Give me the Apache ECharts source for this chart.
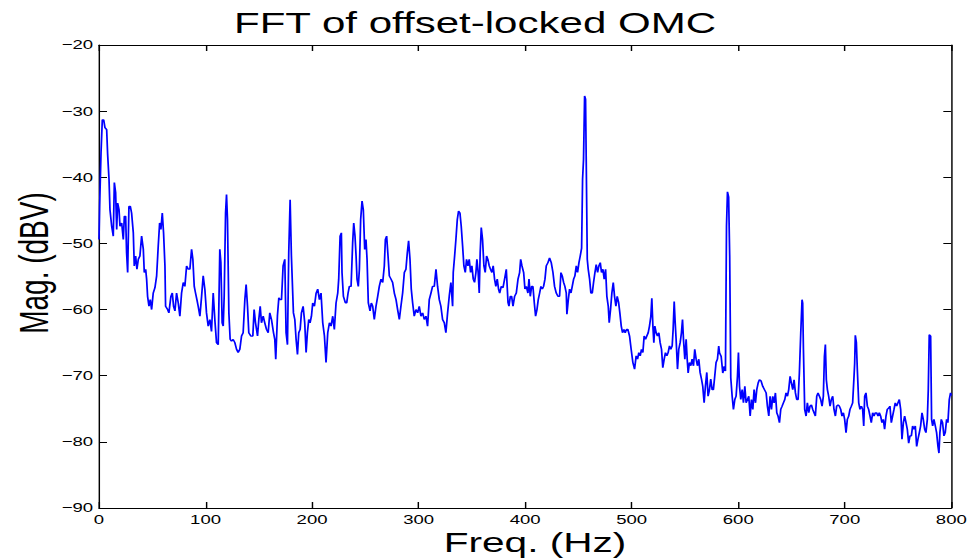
<!DOCTYPE html>
<html>
<head>
<meta charset="utf-8">
<script src="https://cdn.jsdelivr.net/npm/echarts@6/dist/echarts.min.js"></script>
<style>
  html, body { margin: 0; padding: 0; background: #fff; overflow: hidden; }
  #chart { position: absolute; left: 0; top: 0; height: 559px; transform-origin: 0 0; }
</style>
</head>
<body>
<div id="chart"></div>
<script>
// Spectrum of the offset-locked OMC signal: frequency bins (Hz) and magnitudes (dBV)
const freqHz = [
  0, 0.6, 1.9, 3.1, 4.4, 5.6, 7.2, 8.1, 9.4, 10.3,
  11.9, 13.4, 14.4, 15.6, 16.6, 17.5, 18.8, 19.7, 21.3, 22.8,
  23.8, 25.0, 25.9, 26.9, 28.1, 29.4, 30.6, 32.2, 33.1, 34.4,
  35.6, 36.9, 38.4, 40.0, 41.6, 42.5, 43.8, 44.7, 45.6, 46.9,
  48.1, 49.4, 50.9, 52.5, 54.1, 55.6, 56.9, 58.1, 59.4, 60.6,
  61.9, 62.5, 64.4, 65.6, 67.5, 68.8, 70.0, 71.3, 72.8, 74.4,
  75.9, 77.5, 79.1, 80.6, 82.2, 83.8, 85.3, 86.9, 88.1, 89.4,
  90.6, 91.9, 93.1, 94.7, 96.3, 97.8, 99.4, 100.9, 102.5, 104.1,
  105.6, 107.2, 108.8, 110.3, 111.9, 113.4, 114.4, 115.6, 116.6, 117.5,
  118.8, 119.7, 120.6, 121.9, 123.1, 124.4, 125.9, 127.5, 129.1, 130.6,
  132.2, 133.8, 135.3, 136.9, 138.1, 139.4, 140.6, 142.5, 144.4, 145.6,
  146.9, 148.8, 150.0, 151.3, 152.5, 154.1, 155.6, 157.2, 158.8, 160.3,
  161.9, 163.8, 165.0, 165.9, 167.5, 168.8, 170.0, 171.3, 172.8, 174.4,
  175.6, 176.9, 178.1, 179.4, 180.6, 182.5, 183.8, 185.0, 186.3, 187.5,
  188.8, 190.0, 191.6, 193.1, 194.4, 195.6, 196.9, 198.1, 199.4, 200.6,
  202.2, 203.8, 205.3, 206.9, 208.4, 210.0, 211.6, 213.1, 214.7, 216.3,
  217.8, 219.4, 220.9, 222.5, 224.1, 225.0, 226.3, 227.5, 228.1, 229.4,
  231.3, 232.5, 233.8, 235.0, 236.6, 238.1, 239.1, 240.3, 241.3, 242.2,
  243.4, 244.4, 245.6, 246.9, 248.1, 249.4, 250.6, 251.6, 252.8, 254.4,
  255.6, 256.9, 258.4, 260.0, 261.6, 263.1, 264.7, 266.3, 267.8, 268.8,
  270.0, 271.3, 272.5, 274.1, 275.6, 277.2, 278.8, 280.3, 281.9, 283.4,
  285.0, 286.6, 288.1, 289.4, 290.6, 291.9, 293.1, 294.4, 295.9, 297.5,
  299.1, 300.6, 302.2, 303.8, 305.3, 306.9, 308.4, 310.0, 311.6, 313.1,
  314.7, 316.3, 317.8, 319.4, 320.9, 322.5, 324.1, 325.6, 327.2, 328.8,
  330.3, 331.9, 332.5, 333.8, 335.0, 336.3, 337.5, 338.8, 340.0, 341.3,
  342.5, 343.8, 345.0, 346.3, 347.5, 348.8, 350.0, 351.3, 352.5, 353.8,
  354.7, 355.9, 356.9, 357.8, 358.8, 360.0, 361.3, 362.5, 363.8, 365.0,
  366.3, 367.5, 368.8, 370.0, 371.3, 372.5, 373.8, 375.0, 376.1, 377.6,
  379.2, 380.7, 382.3, 383.9, 384.8, 386.1, 387.3, 388.6, 390.1, 391.7,
  393.3, 394.8, 395.8, 397.0, 398.6, 399.8, 401.1, 402.6, 403.6, 404.8,
  406.1, 407.3, 408.6, 409.8, 411.1, 412.3, 413.6, 414.8, 416.1, 417.3,
  418.6, 419.8, 421.4, 422.9, 424.5, 426.1, 427.6, 429.2, 430.8, 432.3,
  433.6, 434.8, 436.1, 437.3, 438.6, 439.2, 440.5, 441.7, 443.0, 444.2,
  445.5, 446.7, 448.0, 449.2, 450.5, 451.7, 453.0, 453.9, 454.8, 455.8,
  456.7, 457.3, 458.3, 459.2, 460.5, 461.7, 463.0, 464.2, 465.5, 466.7,
  468.0, 469.2, 470.5, 471.7, 473.0, 474.2, 475.5, 476.7, 478.0, 478.9,
  480.2, 481.4, 482.7, 483.9, 485.2, 486.4, 487.7, 488.9, 490.2, 491.4,
  492.7, 493.9, 495.2, 496.4, 498.0, 499.5, 501.1, 502.7, 504.2, 505.5,
  506.7, 508.0, 509.2, 510.5, 511.7, 513.0, 514.2, 515.5, 516.7, 518.0,
  518.9, 519.9, 520.8, 521.7, 523.0, 524.2, 525.5, 526.7, 528.0, 529.2,
  530.5, 531.7, 533.0, 534.2, 535.5, 536.7, 538.0, 538.9, 539.9, 540.8,
  541.7, 543.0, 544.2, 545.5, 546.7, 547.7, 548.6, 549.9, 551.1, 552.1,
  553.0, 554.2, 555.5, 556.7, 558.0, 559.2, 560.5, 561.7, 563.0, 564.2,
  565.5, 566.7, 568.0, 569.2, 570.5, 571.7, 573.0, 574.2, 575.5, 576.7,
  578.0, 579.2, 580.5, 581.7, 582.4, 584.0, 585.5, 586.8, 588.0, 589.0,
  589.9, 591.0, 592.0, 593.0, 594.3, 595.5, 596.8, 598.0, 599.3, 600.2,
  601.2, 602.4, 603.7, 604.9, 606.2, 607.4, 608.7, 609.9, 611.2, 612.4,
  613.7, 614.9, 616.2, 617.4, 618.7, 619.9, 621.5, 623.0, 624.6, 626.2,
  627.4, 628.7, 629.9, 631.2, 632.4, 633.7, 634.9, 636.2, 637.4, 638.7,
  639.9, 641.2, 642.4, 643.7, 644.9, 646.2, 647.4, 648.7, 649.9, 651.2,
  652.4, 653.7, 654.9, 656.2, 657.4, 658.7, 659.9, 660.5, 661.2, 662.4,
  663.7, 664.9, 666.2, 667.4, 668.7, 669.9, 671.2, 672.4, 673.7, 674.9,
  676.2, 677.4, 678.7, 679.9, 680.9, 681.8, 682.7, 683.7, 684.9, 686.2,
  687.4, 688.7, 689.9, 691.2, 692.4, 693.7, 694.9, 696.2, 697.4, 698.7,
  699.9, 701.2, 702.4, 703.7, 704.9, 706.2, 707.4, 708.7, 709.3, 709.9,
  710.9, 711.8, 713.1, 714.3, 715.6, 716.8, 717.8, 718.7, 719.9, 721.2,
  722.4, 723.7, 724.9, 726.2, 727.4, 728.7, 729.9, 731.2, 732.4, 733.7,
  734.9, 736.2, 737.4, 738.7, 739.9, 741.2, 742.4, 743.7, 744.9, 746.2,
  747.4, 748.7, 749.9, 751.2, 752.5, 753.7, 755.0, 756.2, 757.5, 758.7,
  760.0, 761.2, 762.5, 763.7, 765.0, 766.2, 767.5, 768.7, 770.0, 771.2,
  772.5, 773.7, 775.0, 776.2, 777.5, 778.4, 779.3, 780.6, 781.5, 782.5,
  783.7, 785.0, 786.2, 787.5, 788.4, 789.3, 790.6, 791.8, 793.1, 794.3,
  795.6, 796.8, 798.1, 799.3, 800.0
];

const magDbv = [
  -49.4, -44.4, -36.3, -31.3, -31.3, -32.5, -32.8, -36.5, -40.3, -44.9,
  -47.4, -48.9, -40.8, -42.3, -47.9, -43.9, -44.9, -47.4, -46.9, -49.4,
  -45.9, -45.9, -51.4, -54.4, -44.4, -44.4, -45.4, -48.4, -53.4, -51.9,
  -53.9, -52.4, -51.9, -48.9, -50.9, -54.4, -53.9, -55.4, -58.0, -59.5,
  -58.5, -60.0, -57.5, -56.7, -54.9, -50.4, -46.9, -47.9, -45.4, -48.4,
  -53.4, -59.5, -60.0, -60.5, -58.0, -57.5, -59.5, -60.2, -57.5, -59.0,
  -61.0, -57.5, -55.9, -56.5, -53.4, -53.9, -53.9, -50.9, -52.4, -56.5,
  -57.5, -58.5, -59.5, -61.0, -58.0, -54.9, -57.0, -60.5, -62.5, -61.5,
  -63.3, -57.5, -61.7, -65.0, -65.3, -50.9, -52.9, -62.0, -62.5, -58.0,
  -45.4, -42.6, -46.4, -60.5, -64.5, -64.8, -64.5, -65.0, -66.0, -66.5,
  -66.0, -64.0, -63.5, -58.5, -56.2, -59.5, -63.5, -64.0, -64.0, -60.0,
  -62.0, -64.0, -61.5, -59.5, -62.0, -61.0, -62.0, -63.0, -63.5, -60.5,
  -61.5, -63.5, -64.5, -67.5, -60.9, -58.2, -58.5, -58.5, -53.4, -52.4,
  -63.5, -65.3, -51.4, -43.4, -51.9, -60.5, -61.5, -64.5, -66.8, -63.5,
  -63.0, -60.5, -59.5, -62.0, -66.5, -63.5, -61.5, -62.0, -61.0, -59.0,
  -59.5, -57.5, -56.9, -58.5, -57.5, -62.0, -64.0, -68.0, -63.5, -62.0,
  -62.5, -61.0, -63.0, -59.0, -57.5, -55.4, -48.9, -48.4, -54.4, -58.0,
  -59.0, -59.0, -57.5, -56.5, -56.5, -49.9, -46.9, -48.9, -51.9, -55.4,
  -56.5, -53.9, -46.4, -43.6, -44.9, -50.9, -49.4, -52.4, -59.0, -60.2,
  -59.0, -59.5, -61.5, -59.5, -58.0, -56.5, -55.4, -55.9, -53.4, -49.4,
  -48.9, -51.9, -54.9, -55.4, -55.9, -57.5, -58.5, -60.0, -61.5, -59.5,
  -57.5, -54.4, -53.9, -51.4, -49.6, -52.4, -56.9, -59.0, -61.0, -60.0,
  -60.5, -59.5, -61.0, -60.5, -61.5, -61.0, -62.5, -58.5, -57.5, -56.5,
  -56.5, -53.9, -56.5, -58.5, -59.5, -61.5, -62.0, -63.5, -60.5, -57.9,
  -55.9, -59.5, -54.4, -51.9, -49.4, -46.4, -45.1, -45.4, -47.4, -50.4,
  -53.4, -54.4, -52.4, -53.4, -52.4, -54.4, -53.4, -55.4, -55.9, -54.4,
  -52.4, -54.4, -57.5, -51.4, -47.6, -49.4, -53.4, -54.4, -51.9, -52.4,
  -53.4, -53.9, -54.4, -53.4, -55.4, -56.5, -55.4, -56.9, -57.5, -56.5,
  -56.7, -55.4, -53.9, -58.9, -59.5, -58.0, -58.0, -59.5, -58.0, -57.5,
  -55.4, -54.4, -52.4, -53.4, -54.4, -56.9, -56.5, -57.5, -55.4, -58.0,
  -56.5, -56.5, -59.0, -61.0, -60.0, -58.5, -57.5, -56.5, -56.9, -56.5,
  -55.4, -53.4, -52.9, -52.2, -52.9, -54.4, -56.5, -57.5, -58.0, -58.0,
  -54.4, -54.9, -55.9, -56.5, -57.5, -60.7, -58.5, -56.9, -57.5, -56.5,
  -55.4, -54.9, -53.4, -54.4, -52.9, -51.9, -50.7, -40.3, -37.3, -27.7,
  -28.2, -37.0, -52.4, -53.9, -55.4, -57.5, -57.5, -55.9, -54.4, -53.2,
  -54.4, -53.4, -52.9, -54.4, -53.9, -55.4, -53.9, -58.0, -59.5, -62.0,
  -59.9, -57.5, -55.9, -58.0, -59.5, -58.0, -58.9, -60.5, -62.5, -63.5,
  -63.0, -63.5, -63.0, -63.0, -64.0, -66.0, -68.0, -69.0, -67.0, -67.5,
  -66.5, -67.0, -66.0, -66.5, -64.0, -64.5, -64.0, -63.5, -62.5, -61.0,
  -58.3, -62.5, -65.0, -62.5, -63.5, -64.0, -63.5, -65.0, -66.0, -68.8,
  -67.5, -66.5, -67.0, -66.5, -65.5, -66.0, -65.5, -63.0, -58.8, -61.9,
  -64.5, -69.0, -66.0, -65.0, -63.5, -61.5, -64.5, -67.5, -64.5, -67.5,
  -69.6, -68.0, -68.5, -67.5, -68.5, -66.0, -67.5, -68.5, -67.5, -69.5,
  -70.5, -71.6, -74.1, -71.6, -69.5, -73.1, -72.1, -70.5, -72.1, -72.1,
  -70.0, -68.0, -67.5, -65.5, -66.5, -67.1, -69.6, -68.6, -69.3, -47.4,
  -42.2, -43.0, -52.0, -70.3, -73.1, -75.1, -73.6, -73.1, -70.1, -66.5,
  -71.6, -73.6, -72.1, -74.1, -71.6, -74.1, -73.6, -73.1, -76.1, -73.6,
  -75.1, -72.1, -74.1, -72.1, -71.1, -70.6, -70.8, -71.6, -72.1, -72.6,
  -74.6, -76.1, -73.1, -75.1, -73.1, -74.1, -72.6, -75.6, -76.1, -77.1,
  -75.1, -74.6, -74.1, -73.6, -72.6, -73.1, -72.1, -70.1, -71.1, -72.1,
  -70.6, -72.6, -73.6, -73.6, -69.6, -63.5, -58.5, -59.0, -66.0, -75.1,
  -76.1, -74.1, -75.6, -74.6, -74.4, -75.1, -75.6, -76.1, -73.1, -72.6,
  -73.1, -73.6, -74.6, -73.1, -67.1, -65.3, -70.6, -72.1, -73.1, -74.6,
  -73.6, -73.1, -75.1, -76.1, -74.6, -74.4, -74.6, -75.1, -76.1, -75.6,
  -76.6, -78.6, -76.6, -76.1, -75.1, -74.6, -74.1, -70.1, -68.1, -63.9,
  -65.0, -69.1, -74.1, -75.1, -74.6, -75.1, -77.6, -73.1, -72.6, -74.6,
  -75.1, -76.1, -77.1, -75.6, -76.1, -75.6, -75.6, -76.1, -75.6, -76.1,
  -77.1, -76.6, -78.1, -76.1, -75.1, -74.9, -74.6, -77.1, -76.1, -75.1,
  -74.1, -74.6, -74.1, -73.6, -75.1, -79.6, -77.1, -76.1, -77.1, -78.1,
  -80.2, -79.1, -79.1, -77.6, -78.1, -77.6, -80.7, -79.6, -78.6, -77.6,
  -75.6, -76.6, -78.1, -78.6, -76.6, -72.1, -63.8, -64.0, -76.6, -77.6,
  -76.6, -77.6, -78.6, -80.7, -81.7, -78.6, -76.6, -77.1, -79.1, -78.6,
  -76.6, -77.1, -73.6, -72.6, -73.0
];

// Axis ranges and tick spacing
const freqRange = [0, 800];
const freqStep = 100;
const magRange = [-90, -20];
const magStep = 10;

const titleText = 'FFT of offset-locked OMC';
const xLabelText = 'Freq. (Hz)';
const yLabelText = 'Mag. (dBV)';

// The figure is drawn narrow and widened horizontally, giving the wide lettering of the plot export
const STRETCH = 1.45;
const PAGE_W = 978;
const PAGE_H = 559;
const el = document.getElementById('chart');
el.style.width = (PAGE_W / STRETCH) + 'px';
el.style.transform = 'scaleX(' + STRETCH + ')';

// Layout in page pixels (converted to the narrow drawing space where needed)
const plotLeft = 99, plotRight = 952, plotTop = 45, plotBottom = 508;
const font = '"Liberation Sans", Arial, Helvetica, sans-serif';
const sx = v => v / STRETCH;

const points = freqHz.map((f, i) => [f, magDbv[i]]);

function axisBase(extra) {
  return Object.assign({
    type: 'value',
    splitLine: { show: false },
    axisLine: { show: true, onZero: false, lineStyle: { color: '#000', width: 1 } },
    nameTextStyle: { fontFamily: font }
  }, extra);
}

const tickLabel = { color: '#000', fontFamily: font, fontSize: 12.8 };
const xTick = { show: true, inside: true, length: 6, lineStyle: { color: '#000', width: 1 } };
const yTick = { show: true, inside: true, length: 5.5, lineStyle: { color: '#000', width: 1 } };

const chart = echarts.init(el, null, { renderer: 'svg' });
chart.setOption({
  animation: false,
  backgroundColor: '#fff',
  grid: {
    left: sx(plotLeft),
    right: sx(PAGE_W - plotRight),
    top: plotTop,
    bottom: PAGE_H - plotBottom,
    containLabel: false,
    outerBoundsMode: 'none'
  },
  xAxis: [
    axisBase({
      position: 'bottom',
      min: freqRange[0], max: freqRange[1], interval: freqStep,
      axisTick: xTick,
      axisLabel: Object.assign({ margin: 5 }, tickLabel)
    }),
    axisBase({
      position: 'top',
      min: freqRange[0], max: freqRange[1], interval: freqStep,
      axisTick: xTick,
      axisLabel: { show: false }
    })
  ],
  yAxis: [
    axisBase({
      position: 'left',
      min: magRange[0], max: magRange[1], interval: magStep,
      axisTick: yTick,
      axisLabel: Object.assign({
        margin: 4,
        formatter: v => String(v).replace('-', '\u2212')
      }, tickLabel)
    }),
    axisBase({
      position: 'right',
      min: magRange[0], max: magRange[1], interval: magStep,
      axisTick: yTick,
      axisLabel: { show: false }
    })
  ],
  graphic: [
    {
      type: 'text', x: sx(475), y: 23, silent: true,
      style: { text: titleText, font: '29px ' + font, fill: '#000', align: 'center', verticalAlign: 'middle' }
    },
    {
      type: 'text', x: sx(535), y: 542, silent: true,
      style: { text: xLabelText, font: '28px ' + font, fill: '#000', align: 'center', verticalAlign: 'middle' }
    },
    {
      type: 'text', x: sx(33), y: 263, rotation: Math.PI / 2, silent: true,
      style: { text: yLabelText, font: '28px ' + font, fill: '#000', align: 'center', verticalAlign: 'middle' }
    }
  ],
  series: [{
    type: 'line',
    xAxisIndex: 0,
    yAxisIndex: 0,
    data: points,
    showSymbol: false,
    symbol: 'none',
    clip: true,
    lineStyle: { color: '#0000ff', width: 1.2 },
    emphasis: { disabled: true }
  }]
});
</script>
</body>
</html>
